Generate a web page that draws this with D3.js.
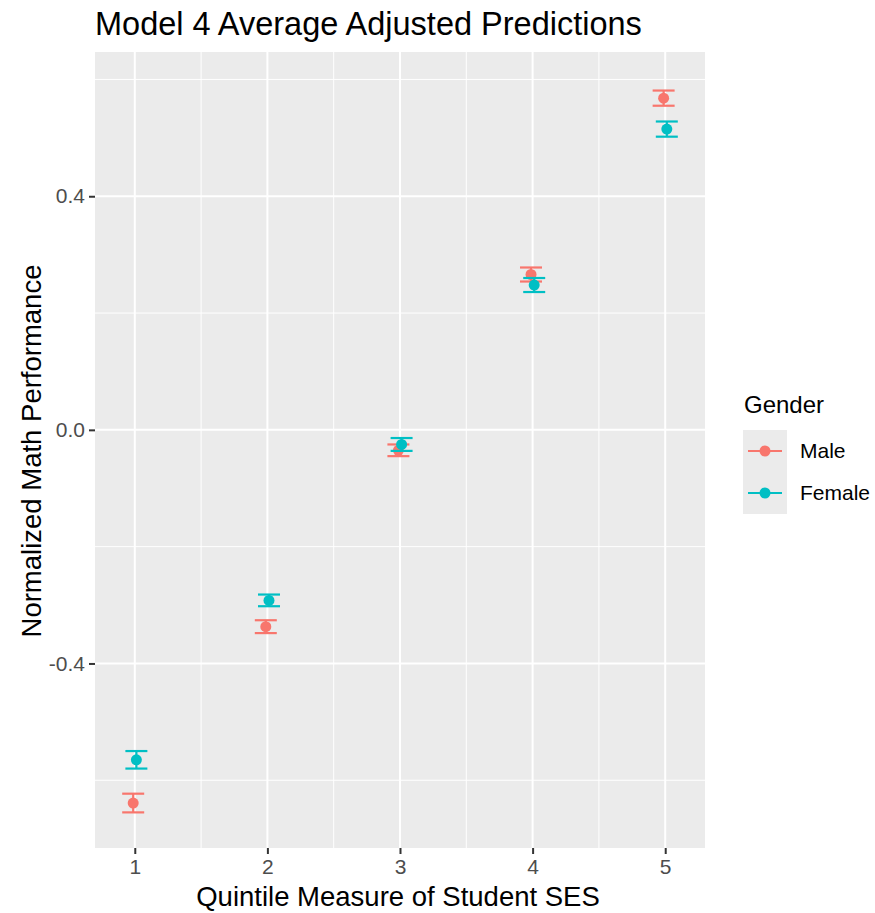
<!DOCTYPE html>
<html>
<head>
<meta charset="utf-8">
<script src="https://cdn.jsdelivr.net/npm/d3@7"></script>
<style>
  body { margin: 0; background: #fff; }
  text { font-family: "Liberation Sans", Arial, sans-serif; }
</style>
</head>
<body>
<div id="chart"></div>
<script>
let width = 875,
    height = 913;

const quintiles = [1, 2, 3, 4, 5];
const genders = ["Male", "Female"];
const maleFit = [-0.639, -0.337, -0.035, 0.266, 0.568];
const maleLo = [-0.655, -0.348, -0.045, 0.254, 0.555];
const maleHi = [-0.623, -0.326, -0.025, 0.278, 0.581];
const femaleFit = [-0.565, -0.292, -0.025, 0.248, 0.515];
const femaleLo = [-0.580, -0.302, -0.036, 0.236, 0.502];
const femaleHi = [-0.550, -0.282, -0.014, 0.260, 0.528];
const yTicks = [-0.4, 0.0, 0.4];
const colors = ["#F8766D", "#00BFC4"];
const dodge = [-0.012, 0.012];

const margin = {top: 52, right: 170, bottom: 65, left: 95};
const iw = width - margin.left - margin.right,
      ih = height - margin.top - margin.bottom;

const svg = d3.select("#chart")
    .append("svg")
    .attr("width", width)
    .attr("height", height);

const x = d3.scaleLinear().domain([0.7, 5.3]).range([0, iw]);
const y = d3.scaleLinear().domain([-0.716, 0.647]).range([ih, 0]);

const g = svg.append("g")
    .attr("transform", "translate(" + margin.left + "," + margin.top + ")");

g.append("rect")
    .attr("width", iw)
    .attr("height", ih)
    .attr("fill", "#EBEBEB");

// minor grid
const xMinor = [1.5, 2.5, 3.5, 4.5];
const yMinor = [-0.6, -0.2, 0.2, 0.6];
g.selectAll(".xminor").data(xMinor).enter().append("line")
    .attr("x1", d => x(d)).attr("x2", d => x(d))
    .attr("y1", 0).attr("y2", ih)
    .attr("stroke", "#fff").attr("stroke-width", 1);
g.selectAll(".yminor").data(yMinor).enter().append("line")
    .attr("y1", d => y(d)).attr("y2", d => y(d))
    .attr("x1", 0).attr("x2", iw)
    .attr("stroke", "#fff").attr("stroke-width", 1);
// major grid
g.selectAll(".xmajor").data(quintiles).enter().append("line")
    .attr("x1", d => x(d)).attr("x2", d => x(d))
    .attr("y1", 0).attr("y2", ih)
    .attr("stroke", "#fff").attr("stroke-width", 2);
g.selectAll(".ymajor").data(yTicks).enter().append("line")
    .attr("y1", d => y(d)).attr("y2", d => y(d))
    .attr("x1", 0).attr("x2", iw)
    .attr("stroke", "#fff").attr("stroke-width", 2);

// axes
const xAxis = g.append("g")
    .attr("transform", "translate(0," + ih + ")")
    .call(d3.axisBottom(x).tickValues(quintiles).tickSize(6).tickPadding(5).tickFormat(d3.format("d")));
const yAxis = g.append("g")
    .call(d3.axisLeft(y).tickValues(yTicks).tickSize(6).tickPadding(4)
      .tickFormat(d => d3.format(".1f")(d).replace("\u2212", "-")));
[xAxis, yAxis].forEach(function (a) {
  a.select(".domain").remove();
  a.attr("font-size", null);
  a.selectAll(".tick line").attr("stroke", "#333").attr("stroke-width", 2);
  a.selectAll(".tick text").attr("fill", "#4D4D4D").style("font-size", "21px");
});

// data
const series = [
  {name: genders[0], fit: maleFit, lo: maleLo, hi: maleHi},
  {name: genders[1], fit: femaleFit, lo: femaleLo, hi: femaleHi}
];
const capW = 11;
series.forEach(function (s, si) {
  const rows = quintiles.map(function (q, i) {
    return {q: q + dodge[si], fit: s.fit[i], lo: s.lo[i], hi: s.hi[i]};
  });
  const sg = g.append("g").attr("stroke", colors[si]).attr("fill", colors[si]);
  sg.selectAll(".v").data(rows).enter().append("line")
      .attr("x1", d => x(d.q)).attr("x2", d => x(d.q))
      .attr("y1", d => y(d.lo)).attr("y2", d => y(d.hi))
      .attr("stroke-width", 2.2);
  sg.selectAll(".lo").data(rows).enter().append("line")
      .attr("x1", d => x(d.q) - capW).attr("x2", d => x(d.q) + capW)
      .attr("y1", d => y(d.lo)).attr("y2", d => y(d.lo))
      .attr("stroke-width", 2.2);
  sg.selectAll(".hi").data(rows).enter().append("line")
      .attr("x1", d => x(d.q) - capW).attr("x2", d => x(d.q) + capW)
      .attr("y1", d => y(d.hi)).attr("y2", d => y(d.hi))
      .attr("stroke-width", 2.2);
  sg.selectAll("circle").data(rows).enter().append("circle")
      .attr("cx", d => x(d.q)).attr("cy", d => y(d.fit))
      .attr("r", 5.5).attr("stroke", "none");
});

// titles
svg.append("text")
    .attr("x", margin.left)
    .attr("y", 35)
    .style("font-size", "32.5px")
    .attr("fill", "#000")
    .text("Model 4 Average Adjusted Predictions");
svg.append("text")
    .attr("x", margin.left + iw / 2 - 2)
    .attr("y", 906)
    .attr("text-anchor", "middle")
    .style("font-size", "27.5px")
    .text("Quintile Measure of Student SES");
svg.append("text")
    .attr("transform", "translate(41," + (margin.top + ih / 2 + 1) + ") rotate(-90)")
    .attr("text-anchor", "middle")
    .style("font-size", "27.5px")
    .text("Normalized Math Performance");

// legend
const lg = svg.append("g").attr("transform", "translate(743,380)");
lg.append("text")
    .attr("x", 1).attr("y", 33)
    .style("font-size", "24px")
    .text("Gender");
genders.forEach(function (name, i) {
  const ky = 50 + i * 42;
  lg.append("rect")
      .attr("x", 0).attr("y", ky)
      .attr("width", 44).attr("height", 42)
      .attr("fill", "#EBEBEB");
  lg.append("line")
      .attr("x1", 5).attr("x2", 39)
      .attr("y1", ky + 21).attr("y2", ky + 21)
      .attr("stroke", colors[i]).attr("stroke-width", 2.2);
  lg.append("circle")
      .attr("cx", 22).attr("cy", ky + 21).attr("r", 5.5)
      .attr("fill", colors[i]);
  lg.append("text")
      .attr("x", 57).attr("y", ky + 28)
      .style("font-size", "21px")
      .text(name);
});
</script>
</body>
</html>
